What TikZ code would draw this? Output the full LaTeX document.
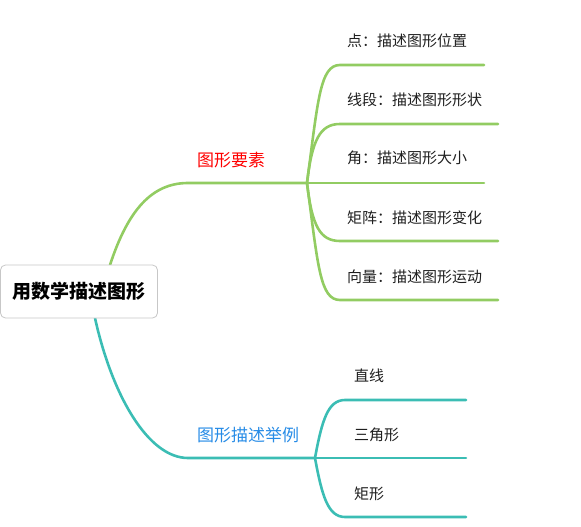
\documentclass[tikz,border=0pt]{standalone}
\usepackage{fontspec}
\setmainfont{Noto Sans CJK SC}
\definecolor{gline}{RGB}{146,204,98}
\definecolor{tline}{RGB}{59,189,180}
\definecolor{blab}{RGB}{38,139,230}
\definecolor{rlab}{RGB}{255,0,0}
\begin{document}
\begin{tikzpicture}[x=1pt,y=-1pt,
  gbr/.style={draw=gline,line width=2.6pt,line cap=round},
  tbr/.style={draw=tline,line width=2.6pt,line cap=round},
  item/.style={anchor=west,inner sep=0pt,font=\fontsize{15}{17}\selectfont,text=black!88},
  lab/.style={anchor=west,inner sep=0pt,font=\fontsize{17}{19}\selectfont},
  rootbox/.style={draw=black!22,line width=0.8pt,rounded corners=5pt,fill=white,
    minimum width=157pt,minimum height=53pt,inner sep=0pt,
    font=\bfseries\fontsize{19}{21}\selectfont}
]
\useasboundingbox (0,0) rectangle (581,527);
% hubs and ends
\coordinate (gs) at (110,265);
\coordinate (gh) at (307,183);
\coordinate (ts) at (95,318);
\coordinate (th) at (315,458);
\coordinate (e1) at (484,65);
\coordinate (e2) at (498,124);
\coordinate (e3) at (484,183);
\coordinate (e4) at (498,241);
\coordinate (e5) at (498,300);
\coordinate (f1) at (466,400);
\coordinate (f2) at (466,458);
\coordinate (f3) at (466,517);
% green branch
\draw[gbr] (gs) .. controls (128,210) and (152,183) .. (188,183) -- (gh);
\draw[gbr] (gh) .. controls (318,100) and (320,65) .. (340,65) -- (e1);
\draw[gbr] (gh) .. controls (312,140) and (320,124) .. (340,124) -- (e2);
\draw[gbr] (gh) -- (e3);
\draw[gbr] (gh) .. controls (312,226) and (320,241) .. (340,241) -- (e4);
\draw[gbr] (gh) .. controls (318,266) and (320,300) .. (340,300) -- (e5);
% teal branch
\draw[tbr] (ts) .. controls (112,395) and (148,458) .. (188,458) -- (th);
\draw[tbr] (th) .. controls (322,420) and (328,400) .. (345,400) -- (f1);
\draw[tbr] (th) -- (f2);
\draw[tbr] (th) .. controls (322,496) and (328,517) .. (345,517) -- (f3);
% root
\node[rootbox] (root) at (79,291.5) {用数学描述图形};
% labels
\node[lab,text=rlab] (l1) at (197,160) {图形要素};
\node[lab,text=blab] (l2) at (197,435) {图形描述举例};
% items
\node[item] (i1) at (347,41) {点：描述图形位置};
\node[item] (i2) at (347,100) {线段：描述图形形状};
\node[item] (i3) at (347,158) {角：描述图形大小};
\node[item] (i4) at (347,218) {矩阵：描述图形变化};
\node[item] (i5) at (347,277) {向量：描述图形运动};
\node[item] (t1) at (354,376) {直线};
\node[item] (t2) at (354,435) {三角形};
\node[item] (t3) at (354,494) {矩形};
\end{tikzpicture}
\end{document}
